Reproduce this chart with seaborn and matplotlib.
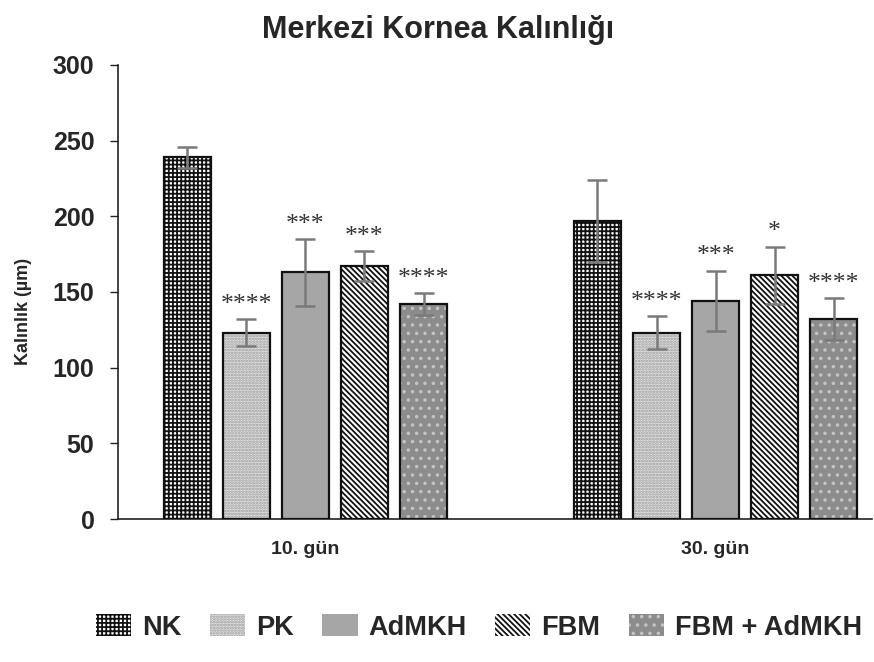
import matplotlib
matplotlib.use("Agg")
import matplotlib.pyplot as plt
from matplotlib.patches import Patch, Rectangle
import seaborn as sns
import pandas as pd

# ---- data ----
groups = ["10. gün", "30. gün"]
series = ["NK", "PK", "AdMKH", "FBM", "FBM + AdMKH"]
means_10 = [239, 123, 163, 167, 142]
means_30 = [197, 123, 144, 161, 132]
err_10 = [7, 9, 22, 10, 7]
err_30 = [27, 11, 20, 19, 14]
stars_10 = ["", "****", "***", "***", "****"]
stars_30 = ["", "****", "***", "*", "****"]

# ---- styling per series: face colour, hatch, hatch colour ----
faces = ["#ffffff", "#e4e4e4", "#a6a6a6", "#ffffff", "#8c8c8c"]
hatches = ["++++", "......", "", "\\" * 6, ".."]
hatch_cols = ["#111111", "#9a9a9a", "#a6a6a6", "#111111", "#c4c4c4"]

sns.set_style("white")
plt.rcParams["font.family"] = ["Liberation Sans", "DejaVu Sans"]
plt.rcParams["font.weight"] = "bold"
plt.rcParams["hatch.linewidth"] = 1.3

rows = []
for g, m, e in ((groups[0], means_10, err_10), (groups[1], means_30, err_30)):
    for s, v, ee in zip(series, m, e):
        rows.append({"Gün": g, "Grup": s, "Kalınlık": v, "err": ee})
df = pd.DataFrame(rows)

fig = plt.figure(figsize=(8.74, 6.62), dpi=100)
ax = fig.add_axes([0.135, 0.216, 0.863, 0.686])

sns.barplot(data=df, x="Gün", y="Kalınlık", hue="Grup", order=groups,
            hue_order=series, palette=dict(zip(series, faces)),
            width=0.72, gap=0.2, errorbar=None, legend=False,
            saturation=1, ax=ax)

means = [means_10, means_30]
errs = [err_10, err_30]
stars = [stars_10, stars_30]
bar_containers = list(ax.containers)
for si, cont in enumerate(bar_containers):
    for gi, bar in enumerate(cont):
        bar.set_hatch(hatches[si])
        bar.set_edgecolor(hatch_cols[si])
        bar.set_linewidth(0)
        ax.add_patch(Rectangle(bar.get_xy(), bar.get_width(), bar.get_height(),
                               fill=False, edgecolor="#111111", lw=1.6, zorder=3))
        xc = bar.get_x() + bar.get_width() / 2
        v = means[gi][si]
        e = errs[gi][si]
        ax.errorbar(xc, v, yerr=e, color="#7a7a7a", elinewidth=1.8,
                    capsize=7.5, capthick=1.8, zorder=4)
        if stars[gi][si]:
            ax.text(xc, v + e + 9.5, stars[gi][si], ha="center", va="center",
                    fontsize=18.5, family=["Liberation Serif", "DejaVu Serif"],
                    fontweight="normal", color="#333333", zorder=5)

ax.set_xlim(-0.457, 1.382)
ax.set_ylim(0, 300)
ax.set_yticks(range(0, 301, 50))
ax.tick_params(axis="y", labelsize=18, length=6, width=1, pad=11, left=True,
               direction="out", color="#222222")
ax.tick_params(axis="x", labelsize=14, length=0, pad=16)
for lab in ax.get_yticklabels() + ax.get_xticklabels():
    lab.set_fontweight("bold")
ax.set_xlabel("")
ax.set_ylabel("Kalınlık (µm)", fontsize=13, fontweight="bold")
ax.yaxis.set_label_coords(-0.114, 0.458)
for side in ("top", "right"):
    ax.spines[side].set_visible(False)
for side in ("left", "bottom"):
    ax.spines[side].set_color("#222222")
    ax.spines[side].set_linewidth(1.2)

fig.suptitle("Merkezi Kornea Kalınlığı", x=0.501, y=0.955, va="center",
             fontsize=22, fontweight="bold")

handles = [Patch(facecolor=f, edgecolor=hc, hatch=h, lw=0, label=s)
           for s, f, h, hc in zip(series, faces, hatches, hatch_cols)]
fig.legend(handles=handles, loc="center", bbox_to_anchor=(0.548, 0.052), ncol=5,
           frameon=False, prop={"size": 19.5, "weight": "bold"},
           handlelength=1.3, handleheight=0.85, handletextpad=0.4,
           columnspacing=1.05)

fig.savefig("out.png", dpi=100)
